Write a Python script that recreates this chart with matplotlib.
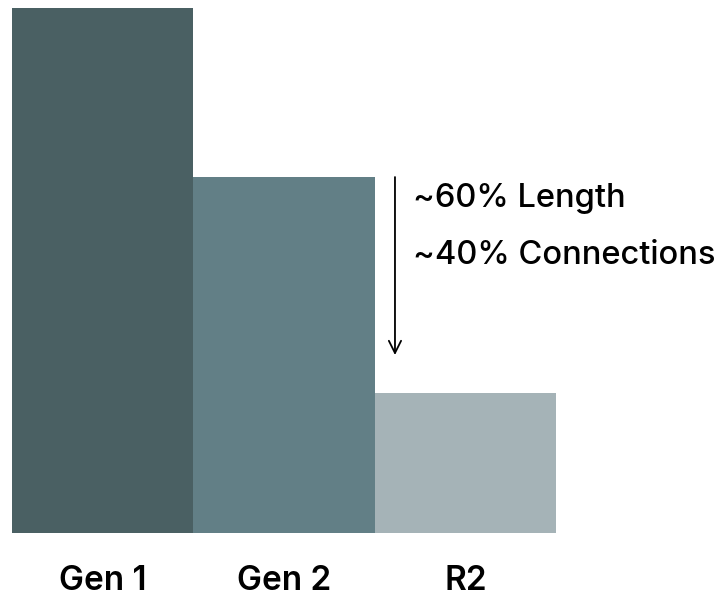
import matplotlib
matplotlib.use("Agg")
import matplotlib.pyplot as plt

plt.rcParams['font.family'] = ['Inter', 'DejaVu Sans']

# relative size of each generation (Gen 1 = 100)
categories = ['Gen 1', 'Gen 2', 'R2']
sizes = [100, 67.8, 26.7]
colors = ['#4a6063', '#627f86', '#a5b3b7']
notes = ['~60% Length', '~40% Connections']

fig = plt.figure(figsize=(7.28, 5.98), dpi=100)
ax = fig.add_axes([12/728, 65/598, 544/728, 525/598])

x = range(len(categories))
ax.bar(x, sizes, width=1.0, color=colors)
ax.set_xlim(-0.5, 2.5)
ax.set_ylim(0, 100)

ax.set_xticks(list(x))
ax.set_xticklabels(categories, fontsize=24, fontweight='semibold')
ax.tick_params(axis='x', length=0, pad=23)
ax.set_yticks([])
for sp in ax.spines.values():
    sp.set_visible(False)

# reduction arrow from Gen 2 height
ax.annotate('', xy=(1.612, 33.9), xytext=(1.612, sizes[1]),
            arrowprops=dict(arrowstyle='->', color='black', lw=1.3,
                            mutation_scale=22, shrinkA=0, shrinkB=0),
            annotation_clip=False)
ax.text(1.71, 63.8, notes[0], fontsize=23.5, fontweight='medium',
        va='center', ha='left', clip_on=False)
ax.text(1.71, 52.8, notes[1], fontsize=23.5, fontweight='medium',
        va='center', ha='left', clip_on=False)

fig.savefig('out.png', dpi=100)
